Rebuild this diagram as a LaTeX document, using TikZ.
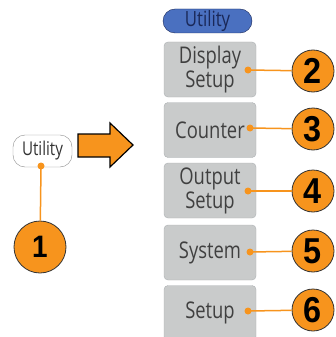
\documentclass[tikz,border=0pt]{standalone}
\usepackage{fontspec}
\newfontfamily\btnfont[FakeStretch=0.8]{Open Sans}
\newfontfamily\numfont[FakeStretch=0.9]{Liberation Sans}
\definecolor{callorange}{RGB}{247,148,29}
\definecolor{btngray}{RGB}{201,203,203}
\definecolor{btnedge}{RGB}{172,176,178}
\definecolor{hdrblue}{RGB}{74,112,192}
\definecolor{hdrtext}{RGB}{26,40,88}
\tikzset{
  menubtn/.style={draw=btnedge, fill=btngray, rounded corners=4pt,
    minimum width=92pt, minimum height=55pt, inner sep=0pt, align=center,
    text=black!75, font=\btnfont\fontsize{23}{24}\selectfont},
  callout/.style={circle, draw=black!80, line width=0.8pt, fill=callorange,
    inner sep=0pt, minimum size=42pt,
    font=\numfont\bfseries\fontsize{36}{36}\selectfont},
  lead/.style={callorange, line width=1.5pt},
}
\begin{document}
\begin{tikzpicture}[x=1pt,y=-1pt]
\useasboundingbox (0,0) rectangle (335,337);

% front panel key
\node[draw=black!45, fill=white, rounded corners=12pt, minimum width=59pt,
  minimum height=32pt, inner sep=0pt, text=black!80,
  font=\btnfont\fontsize{19}{19}\selectfont] (utilkey) at (42.5,151) {Utility};
\coordinate (d1) at (41,166);
\node[callout, minimum size=52pt, font=\numfont\bfseries\fontsize{31}{31}\selectfont] (c1) at (40,247) {1};
\draw[lead] (d1) -- (c1);
\fill[callorange] (d1) circle (3.5pt);

% big arrow
\draw[fill=callorange, line width=1.2pt] (78,134) -- (110,134) -- (110,123)
  -- (133,145) -- (110,167) -- (110,157) -- (78,157) -- cycle;

% menu
\node[draw=hdrtext, fill=hdrblue, rounded corners=12pt, minimum width=89pt,
  minimum height=24pt, inner sep=0pt, text=hdrtext,
  font=\btnfont\fontsize{21}{21}\selectfont] (menuhdr) at (207.5,21) {Utility};

\node[menubtn] (dispbtn) at (210,69.5) {Display\\Setup};
\node[menubtn] (cntbtn) at (210,130) {Counter};
\node[menubtn] (outbtn) at (210,190.5) {Output\\Setup};
\node[menubtn] (sysbtn) at (210,252.5) {System};
\node[menubtn] (setbtn) at (210,313) {Setup};

% callouts
\node[callout] (c2) at (313,71) {2};
\node[callout] (c3) at (313,129) {3};
\node[callout] (c4) at (313,191) {4};
\node[callout] (c5) at (313,251) {5};
\node[callout] (c6) at (313,310) {6};

\coordinate (d2) at (248,70);
\coordinate (d3) at (250,128);
\coordinate (d4) at (248,191);
\coordinate (d5) at (250,252);
\coordinate (d6) at (248,311);
\draw[lead] (d2) -- (c2);
\draw[lead] (d3) -- (c3);
\draw[lead] (d4) -- (c4);
\draw[lead] (d5) -- (c5);
\draw[lead] (d6) -- (c6);
\foreach \d in {d2,d3,d4,d5,d6}
  \fill[callorange] (\d) circle (3.5pt);
\end{tikzpicture}
\end{document}
